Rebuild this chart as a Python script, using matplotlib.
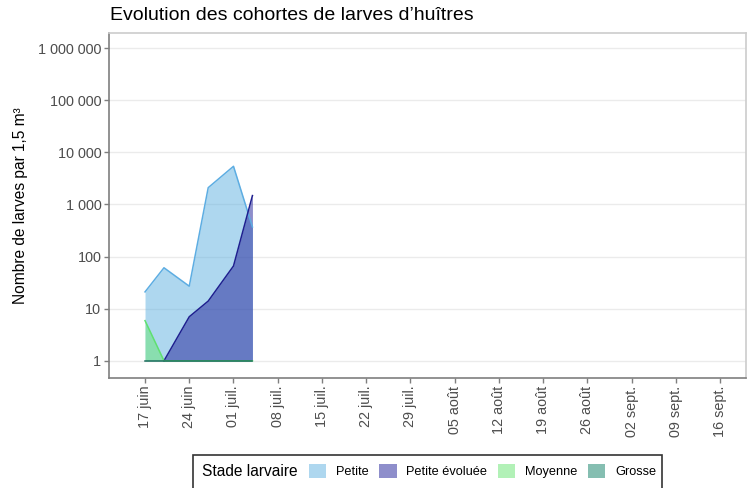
import matplotlib
matplotlib.use('Agg')
import matplotlib.pyplot as plt
import matplotlib.dates as mdates
from matplotlib.patches import Patch, Rectangle
from matplotlib.ticker import FixedLocator, FuncFormatter
import numpy as np
import datetime as dt

plt.rcParams['font.family'] = ['Liberation Sans', 'DejaVu Sans']

# sampling dates
dates = [dt.date(2023, 6, 17), dt.date(2023, 6, 20), dt.date(2023, 6, 24),
         dt.date(2023, 6, 27), dt.date(2023, 7, 1), dt.date(2023, 7, 4)]

# larvae counts per stage (1 = none, log scale)
petite = [21, 61, 27, 2100, 5400, 370]
petite_evoluee = [np.nan, 1, 7, 14, 66, 1480]
moyenne = [5.9, 1, 1, 1, 1, 1]
grosse = [1, 1, 1, 1, 1, 1]

stages = ['Petite', 'Petite évoluée', 'Moyenne', 'Grosse']
series = [petite, petite_evoluee, moyenne, grosse]
line_colors = ['#5DADE2', '#1F1F8F', '#5FE070', '#1E6E5E']
fill_colors = ['#5FB1E1', '#1F1F99', '#66E571', '#0D7F65']

tick_dates = [dt.date(2023, 6, 17) + dt.timedelta(days=7 * i) for i in range(14)]
tick_labels = ['17 juin', '24 juin', '01 juil.', '08 juil.', '15 juil.', '22 juil.',
               '29 juil.', '05 août', '12 août', '19 août', '26 août', '02 sept.',
               '09 sept.', '16 sept.']

fig = plt.figure(figsize=(7.53, 4.88), dpi=100)
ax = fig.add_axes([109 / 753, 1 - 378 / 488, (746 - 109) / 753, (378 - 33) / 488])

x = mdates.date2num(dates)
for vals, lc, fc in zip(series, line_colors, fill_colors):
    v = np.array(vals, dtype=float)
    ok = ~np.isnan(v)
    ax.fill_between(x[ok], 1, v[ok], color=fc, alpha=0.5, linewidth=0)
    ax.plot(x[ok], v[ok], color=lc, linewidth=1.1)

ax.set_yscale('log')
ax.set_ylim(10 ** -0.33, 10 ** 6.29)
ax.set_xlim(mdates.date2num(dt.date(2023, 6, 11)) + 0.3, mdates.date2num(dt.date(2023, 9, 20)) + 0.1)

yt = [1, 10, 100, 1000, 10000, 100000, 1000000]
ax.yaxis.set_major_locator(FixedLocator(yt))
ax.yaxis.set_minor_locator(FixedLocator([]))
ax.yaxis.set_major_formatter(FuncFormatter(lambda v, p: f'{int(round(v)):,}'.replace(',', ' ')))
ax.set_xticks(mdates.date2num(tick_dates))
ax.set_xticklabels(tick_labels, rotation=90)

ax.grid(axis='y', color='#EBEBEB', linewidth=1)
ax.set_axisbelow(True)
ax.tick_params(axis='both', colors='#7F7F7F', labelcolor='#4D4D4D', labelsize=10.4,
               length=3.5, width=1, pad=2)
for side in ['top', 'right']:
    ax.spines[side].set_color('#CCCCCC')
for side in ['left', 'bottom']:
    ax.spines[side].set_color('#7F7F7F')
for s in ax.spines.values():
    s.set_linewidth(1.2)

ax.set_ylabel('Nombre de larves par 1,5 m³', fontsize=11.2, labelpad=7)
fig.text(110 / 753, 1 - 16 / 488, 'Evolution des cohortes de larves d’huîtres',
         fontsize=14, va='center', ha='left')

# legend
fig.patches.append(Rectangle((193 / 753, -0.02), (662 - 193) / 753, (0.02 + 1 - 455 / 488),
                             transform=fig.transFigure, fill=False, edgecolor='#333333',
                             linewidth=1.2))
fig.text(202 / 753, 1 - 471 / 488, 'Stade larvaire', fontsize=11.2, va='center', ha='left')
handles = [Patch(facecolor=c, alpha=0.5, edgecolor='none') for c in fill_colors]
fig.legend(handles, stages, loc='center left', bbox_to_anchor=(309 / 753, 1 - 471 / 488),
           ncol=4, frameon=False, fontsize=9.2, handlelength=1.35, handleheight=1.4,
           handletextpad=0.75, columnspacing=0.85, borderaxespad=0, borderpad=0)

fig.savefig('out.png', dpi=100)
